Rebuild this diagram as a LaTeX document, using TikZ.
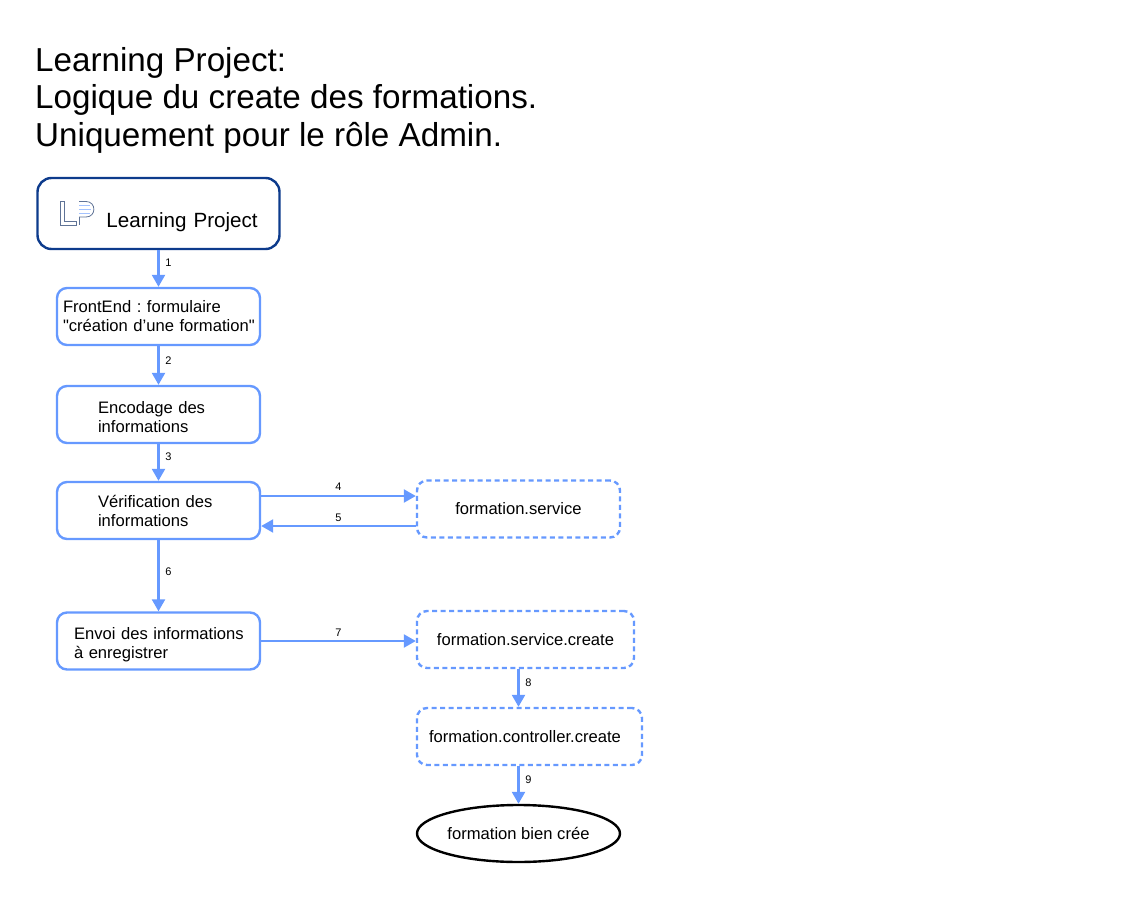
\documentclass[tikz,border=0pt]{standalone}
\usepackage{fontspec}
\defaultfontfeatures[\rmfamily]{}
\setmainfont{Liberation Sans}
\usetikzlibrary{arrows.meta}
\usetikzlibrary{shapes.geometric}
\definecolor{lpblue}{RGB}{102,153,255}
\definecolor{lpdark}{RGB}{13,59,140}
\definecolor{lpgrey}{RGB}{95,115,150}
\frenchspacing
\tikzset{%
    stepbox/.style={draw=lpblue,line width=2.4pt,rounded corners=10pt,fill=white,minimum width=203pt,minimum height=57pt,font=\fontsize{16.6}{19}\selectfont,inner xsep=0pt,text width=203pt,align=left},
    srvbox/.style={draw=lpblue,line width=2.4pt,dash pattern=on 5pt off 3.5pt,rounded corners=10pt,fill=white,minimum height=57pt,font=\fontsize{16.6}{19}\selectfont},
    flow/.style={draw=lpblue,line width=2.4pt,-{Triangle[length=12pt,width=13pt]}},
    num/.style={font=\fontsize{11}{13}\selectfont,inner sep=0pt},
    indent/.style={execute at begin node={\leftskip=#1\relax}},
    drop/.style={execute at begin node={\leavevmode\rule{0pt}{#1}}}
}
\begin{document}
\begin{tikzpicture}[x=1pt,y=-1pt]
            \useasboundingbox (0,0) rectangle (1136,902);
            \node[anchor=north west,align=left,inner sep=0pt,font=\fontsize{33.2}{37.5}\selectfont] (title) at (35,47) {Learning Project:\\Logique du create des formations.\\Uniquement pour le rôle Admin.};

            \node[draw=lpdark,line width=2.4pt,rounded corners=14pt,minimum width=242pt,minimum height=71pt,font=\fontsize{20.6}{24}\selectfont,inner xsep=0pt,text width=242pt,text height=31pt,text depth=4pt,align=left,indent=69pt] (lp) at (158.5,213.5) {Learning Project};
            \node[stepbox,indent=6pt] (front) at (158.5,316.5) {FrontEnd : formulaire\\"création d’une formation"};
            \node[stepbox,indent=41pt,drop=17pt] (encode) at (158.5,414.5) {Encodage des\\informations};
            \node[stepbox,indent=41pt] (verif) at (158.5,510.5) {Vérification des\\informations};
            \node[stepbox,indent=17pt,drop=20pt] (send) at (158.5,641) {Envoi des informations\\à enregistrer};

            \node[srvbox,minimum width=203pt] (srv) at (518.5,509) {formation.service};
            \node[srvbox,minimum width=217pt] (srvcreate) at (525.5,639.5) {formation.service.create};
            \node[srvbox,minimum width=225pt,inner xsep=0pt,text width=225pt,align=left,indent=12pt] (ctrl) at (529.5,736.5) {formation.controller.create};
            \node[ellipse,draw=black,line width=2.4pt,inner sep=0pt,minimum width=203pt,minimum height=57pt,font=\fontsize{16.6}{18}\selectfont] (done) at (518.5,833.5) {formation bien crée};

            % logo
            \draw[lpgrey,line width=.8pt] (60.5,201.5) -- (64,201.5) -- (64,221) -- (76,221) -- (76,225) -- (60.5,225) -- cycle;
            \draw[lpgrey,line width=.8pt] (79,217) -- (79,225);
            \draw[lpgrey,line width=.8pt] (79,201.5) -- (86,201.5) .. controls (96.5,201.5) and (96.5,217) .. (86,217) -- (79,217);
            \foreach \yy/\xx in {205/90,209/91,213/90}
                \draw[lpblue!60,line width=.8pt] (79,\yy) -- (\xx,\yy);

            \draw[flow] (lp) -- (front);
            \draw[flow] (front) -- (encode);
            \draw[flow] (encode) -- (verif);
            \draw[flow] (verif) -- (send);
            \draw[flow] ([yshift=14.5pt]verif.east) -- ([yshift=14.5pt]verif.east -| srv.west);
            \draw[flow] ([yshift=-15.5pt]verif.east -| srv.west) -- ([yshift=-15.5pt]verif.east);
            \draw[flow] (send) -- (srvcreate.west |- send);
            \draw[flow] (srvcreate.south -| done) -- (ctrl.north -| done);
            \draw[flow] (ctrl.south -| done) -- (done);

            \node[num] (n1) at (168.5,262.7) {1};
            \node[num] (n2) at (168.5,360.7) {2};
            \node[num] (n3) at (168.5,456.7) {3};
            \node[num] (n4) at (338.5,486.7) {4};
            \node[num] (n5) at (338.5,517.7) {5};
            \node[num] (n6) at (168.5,571.7) {6};
            \node[num] (n7) at (338.5,632.7) {7};
            \node[num] (n8) at (528.5,682.7) {8};
            \node[num] (n9) at (528.5,779.7) {9};
        \end{tikzpicture}
\end{document}
